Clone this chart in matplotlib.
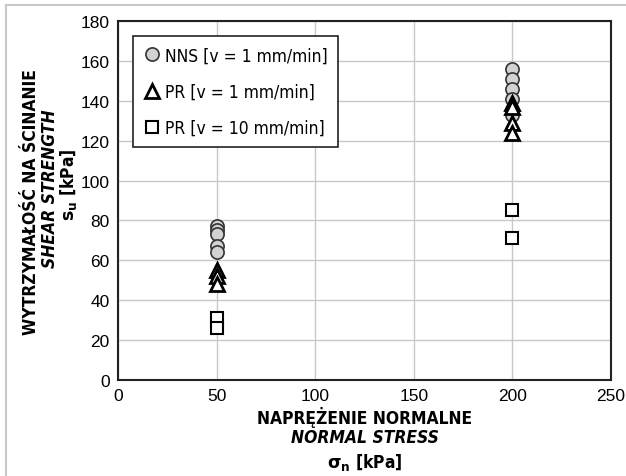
import matplotlib.pyplot as plt
from matplotlib.lines import Line2D

plt.rcParams['font.family'] = ['Liberation Sans', 'DejaVu Sans']

# data
nns_x = [50, 50, 50, 50, 50, 200, 200, 200, 200, 200]
nns_y = [77, 75, 73, 67, 64, 156, 151, 146, 141, 133]
pr1_x = [50, 50, 50, 200, 200, 200, 200]
pr1_y = [55, 52, 48, 139, 137, 129, 124]
pr10_x = [50, 50, 200, 200]
pr10_y = [31, 26, 85, 71]

fig = plt.figure(figsize=(6.26, 4.77), dpi=100)
ax = fig.add_axes([0.1885, 0.2013, 0.7875, 0.7527])

ax.plot(nns_x, nns_y, 'o', ms=9.5, mfc='#d2d2d2', mec='#333333', mew=1.2,
        label='NNS [v = 1 mm/min]', zorder=3)
ax.plot(pr1_x, pr1_y, '^', ms=10, mfc='white', mec='black', mew=2,
        label='PR [v = 1 mm/min]', zorder=4)
ax.plot(pr10_x, pr10_y, 's', ms=9, mfc='white', mec='black', mew=1.5,
        label='PR [v = 10 mm/min]', zorder=3)

ax.set_xlim(0, 250)
ax.set_ylim(0, 180)
ax.set_xticks(range(0, 251, 50))
ax.set_yticks(range(0, 181, 20))
ax.grid(True, color='#c8c8c8', lw=1)
ax.set_axisbelow(True)
ax.tick_params(labelsize=12.5, length=0, pad=6)
for s in ax.spines.values():
    s.set_color('#222222')
    s.set_linewidth(1.5)

leg = ax.legend(loc='upper left', bbox_to_anchor=(0.03, 0.958),
                prop=dict(family='DejaVu Sans', stretch='condensed', size=12.5),
                handletextpad=0.25, handlelength=1.0, labelspacing=1.05,
                borderpad=0.6, borderaxespad=0, fancybox=False, framealpha=1)
leg.get_frame().set_edgecolor('#222222')
leg.get_frame().set_linewidth(1.2)

cond = dict(family='DejaVu Sans', stretch='condensed', fontweight='bold',
            fontsize=12.5)

# y axis title
fig.text(0.050, 0.576, 'WYTRZYMAŁOŚĆ NA ŚCINANIE', rotation=90,
         ha='center', va='center', **cond)
fig.text(0.080, 0.604, 'SHEAR STRENGTH', rotation=90, style='italic',
         ha='center', va='center', **cond)
fig.text(0.110, 0.612, r'$\mathbf{s_u}$ [kPa]', rotation=90,
         ha='center', va='center', **cond)

# x axis title
fig.text(0.583, 0.124, 'NAPRĘŻENIE NORMALNE', ha='center', va='center', **cond)
fig.text(0.583, 0.082, 'NORMAL STRESS', style='italic', ha='center',
         va='center', **cond)
fig.text(0.583, 0.031, r'$\mathbf{\sigma_n}$ [kPa]', ha='center',
         va='center', **cond)

# thin frame lines top and left
fig.add_artist(Line2D([0.009, 0.009], [0.0, 0.988], color='#c8c8c8', lw=1.5))
fig.add_artist(Line2D([0.009, 1.0], [0.988, 0.988], color='#c8c8c8', lw=1.5))

fig.savefig('out.png', dpi=100)
